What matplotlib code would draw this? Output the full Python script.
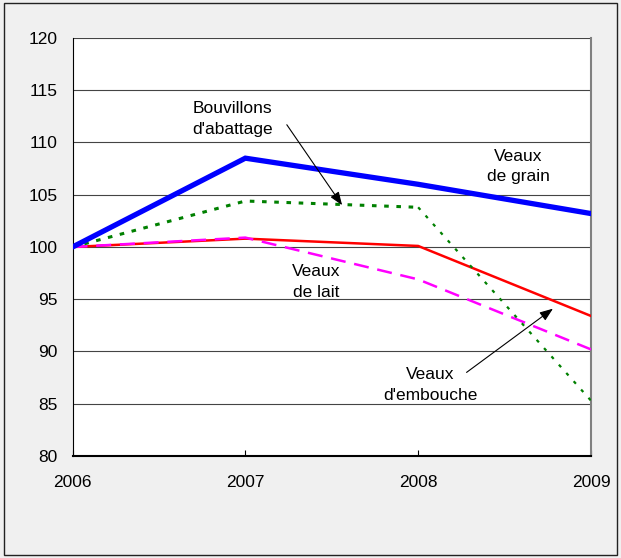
import matplotlib
matplotlib.use("Agg")
import matplotlib.pyplot as plt
from matplotlib.patches import Rectangle

plt.rcParams['font.family'] = ['Liberation Sans', 'DejaVu Sans']

years = [2006, 2007, 2008, 2009]
veaux_grain = [100, 108.5, 106.0, 103.2]
bouvillons = [100, 104.4, 103.8, 85.3]
veaux_lait = [100, 100.8, 100.1, 93.4]
veaux_embouche = [100, 100.9, 96.9, 90.2]
yticks = [80, 85, 90, 95, 100, 105, 110, 115, 120]

fig = plt.figure(figsize=(6.21, 5.58), dpi=100)
fig.patch.set_facecolor('#f0f0f0')
fig.patches.append(Rectangle((4/621, 3/558), 613/621, 552/558, transform=fig.transFigure,
                             fill=False, edgecolor='#222222', lw=1.0))
ax = fig.add_axes([72.5/621, (558-456)/558, (591-72.5)/621, (456-38)/558])
ax.set_facecolor('white')

ax.plot(years, veaux_grain, color='#0000ff', lw=3.8, solid_joinstyle='miter', zorder=5)
ax.plot(years[:3], bouvillons[:3], color='#008000', lw=2.2, linestyle=(0, (1.5, 2.5)), zorder=4)
ax.plot(years[2:], bouvillons[2:], color='#008000', lw=1.6, linestyle=(0, (1.5, 3.5)), zorder=4)
ax.plot(years, veaux_lait, color='#ff0000', lw=1.8, zorder=3)
ax.plot(years, veaux_embouche, color='#ff00ff', lw=1.8, linestyle=(0, (6, 3.5)), zorder=3)

ax.set_xlim(2006, 2009)
ax.set_ylim(80, 120)
ax.set_yticks(yticks)
ax.set_xticks(years)
ax.set_xticklabels([str(y) for y in years])
ax.grid(axis='y', color='#444444', lw=0.8)
ax.set_axisbelow(True)
ax.tick_params(axis='y', length=0, pad=10.5, labelsize=12.5)
ax.tick_params(axis='x', direction='in', length=4, pad=13.5, labelsize=12.5)
ax.spines['top'].set_visible(False)
ax.spines['right'].set_color('#808080')
ax.spines['right'].set_linewidth(1.5)
ax.spines['left'].set_color('black')
ax.spines['bottom'].set_color('black')
ax.spines['bottom'].set_linewidth(1.5)

fs = 12.5
ls = 1.45
ax.text(2006.926, 112.25, "Bouvillons\nd'abattage", ha='center', va='center', fontsize=fs, linespacing=ls)
ax.text(2008.58, 107.7, "Veaux\nde grain", ha='center', va='center', fontsize=fs, linespacing=ls)
ax.text(2007.41, 96.65, "Veaux\nde lait", ha='center', va='center', fontsize=fs, linespacing=ls)
ax.text(2008.07, 86.8, "Veaux\nd'embouche", ha='center', va='center', fontsize=fs, linespacing=ls)

arrow_kw = dict(arrowstyle='-|>,head_length=0.8,head_width=0.3', color='black', lw=0.8,
                shrinkA=0, shrinkB=0)
ax.annotate('', xy=(2007.56, 104.0), xytext=(2007.24, 111.7), arrowprops=arrow_kw, zorder=6)
ax.annotate('', xy=(2008.78, 94.1), xytext=(2008.28, 88.0), arrowprops=arrow_kw, zorder=6)

fig.savefig('out.png', dpi=100, facecolor=fig.get_facecolor())
